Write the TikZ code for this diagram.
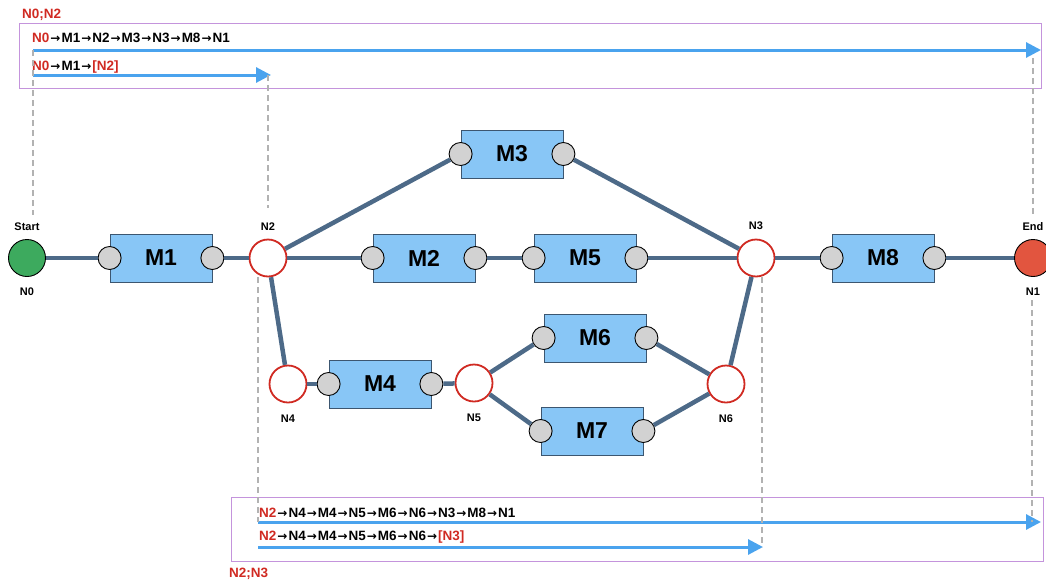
\documentclass[tikz,border=0pt]{standalone}
\usepackage{fontspec}
\setmainfont{Liberation Sans}
\newfontfamily\arrowfont{DejaVu Sans}
\newcommand\pto{{\arrowfont\bfseries\fontsize{12}{14}\selectfont\kern1pt→\kern1pt}}
\usetikzlibrary{arrows.meta}
\definecolor{edgeblue}{HTML}{4D6A88}
\definecolor{boxfill}{HTML}{88C6F6}
\definecolor{boxline}{HTML}{3C5670}
\definecolor{portgray}{HTML}{D2D2D2}
\definecolor{juncred}{HTML}{D02A22}
\definecolor{startgreen}{HTML}{3DAA5E}
\definecolor{endred}{HTML}{E2553F}
\definecolor{pathblue}{HTML}{4AA3EE}
\definecolor{framepurple}{HTML}{C494DC}
\definecolor{txtred}{HTML}{D02A22}

\begin{document}
\begin{tikzpicture}[x=1pt,y=-1pt]
   \tikzset{mod/.style={draw=boxline, fill=boxfill, line width=0.8pt, minimum width=102pt, minimum height=48pt, inner sep=0pt, font=\bfseries\fontsize{23}{25}\selectfont},
            port/.style={draw=black, fill=portgray, circle, minimum size=23pt, inner sep=0pt, line width=0.9pt},
            junc/.style={draw=juncred, fill=white, circle, minimum size=37pt, inner sep=0pt, line width=1.8pt},
            term/.style={draw=black, circle, minimum size=37pt, inner sep=0pt, line width=0.9pt},
            lab/.style={font=\bfseries\fontsize{11}{12}\selectfont},
            wire/.style={draw=edgeblue, line width=4.5pt},
            guide/.style={draw=black!30, line width=1.8pt, dash pattern=on 6pt off 4pt},
            route/.style={draw=pathblue, line width=3pt, -{Triangle[length=15pt,width=15pt]}},
            frame/.style={draw=framepurple, line width=0.9pt},
            ptxt/.style={anchor=west, inner sep=0pt, font=\bfseries\fontsize{13.5}{15}\selectfont}};
   \useasboundingbox (0,0) rectangle (1046,581);

% junctions
\node[term, fill=startgreen, label={[lab,label distance=5pt]above:Start}, label={[lab,label distance=7pt]below:N0}] (N0) at (27,258) {};
\node[junc, label={[lab,label distance=5pt]above:N2}] (N2) at (268,258) {};
\node[junc, label={[lab,label distance=5pt]above:N3}] (N3) at (756,258) {};
\node[term, fill=endred, label={[lab,label distance=5pt]above:End}, label={[lab,label distance=7pt]below:N1}] (N1) at (1033,258) {};
\node[junc, label={[lab,label distance=8pt]below:N4}] (N4) at (288,384) {};
\node[junc, label={[lab,label distance=8pt]below:N5}] (N5) at (474,383) {};
\node[junc, label={[lab,label distance=8pt]below:N6}] (N6) at (726,384) {};

% modules
\node[mod] (M1) at (161,258) {M1};
\node[mod] (M2) at (424,258) {M2};
\node[mod] (M3) at (512,154) {M3};
\node[mod] (M4) at (380,384) {M4};
\node[mod] (M5) at (585,258) {M5};
\node[mod] (M6) at (595,338) {M6};
\node[mod] (M7) at (592,431) {M7};
\node[mod] (M8) at (883,258) {M8};
\foreach \m in {M1,M2,M3,M4,M5,M6,M7,M8} {
  \node[port] (\m a) at (\m.west) {};
  \node[port] (\m b) at (\m.east) {};
}

% wires
\draw[wire] (N0) -- (M1a);
\draw[wire] (M1b) -- (N2);
\draw[wire] (N2) -- (M3a);
\draw[wire] (M3b) -- (N3);
\draw[wire] (N2) -- (M2a);
\draw[wire] (M2b) -- (M5a);
\draw[wire] (M5b) -- (N3);
\draw[wire] (N3) -- (M8a);
\draw[wire] (M8b) -- (N1);
\draw[wire] (N2) -- (N4);
\draw[wire] (N4) -- (M4a);
\draw[wire] (M4b) -- (N5);
\draw[wire] (N5) -- (M6a);
\draw[wire] (M6b) -- (N6);
\draw[wire] (N5) -- (M7a);
\draw[wire] (M7b) -- (N6);
\draw[wire] (N6) -- (N3);

% top frame
\draw[frame] (19,23) rectangle (1041,88);
\node[ptxt, text=txtred] (topcase) at (22,15) {N0;N2};
\node[ptxt] (topfull) at (32,38) {\textcolor{txtred}{N0}\pto M1\pto N2\pto M3\pto N3\pto M8\pto N1};
\node[ptxt] (topcut) at (32,67) {\textcolor{txtred}{N0}\pto M1\pto\textcolor{txtred}{[N2]}};
\coordinate (a0) at (33,50);
\coordinate (a1) at (1041,50);
\coordinate (b0) at (33,75);
\coordinate (b1) at (271,75);
\draw[route] (a0) -- (a1);
\draw[route] (b0) -- (b1);
\coordinate (g0) at (33,215);
\coordinate (g1) at (268,208);
\coordinate (g2) at (1033,58);
\coordinate (g3) at (1033,214);
\draw[guide] (a0) -- (g0);
\draw[guide] (b1 -| g1) -- (g1);
\draw[guide] (g2) -- (g3);

% bottom frame
\draw[frame] (231,497) rectangle (1043,561);
\node[ptxt, text=txtred] (botcase) at (229,574) {N2;N3};
\node[ptxt] (botfull) at (259,513) {\textcolor{txtred}{N2}\pto N4\pto M4\pto N5\pto M6\pto N6\pto N3\pto M8\pto N1};
\node[ptxt] (botcut) at (259,537) {\textcolor{txtred}{N2}\pto N4\pto M4\pto N5\pto M6\pto N6\pto\textcolor{txtred}{[N3]}};
\coordinate (c0) at (258,522);
\coordinate (c1) at (1041,522);
\coordinate (d0) at (258,547);
\coordinate (d1) at (763,547);
\draw[route] (c0) -- (c1);
\draw[route] (d0) -- (d1);
\coordinate (h0) at (258,277);
\coordinate (h1) at (762,277);
\coordinate (h2) at (1032,300);
\draw[guide] (h0) -- (c0);
\draw[guide] (h1) -- (h1 |- d1);
\draw[guide] (h2) -- (h2 |- c1);

\end{tikzpicture}
\end{document}
